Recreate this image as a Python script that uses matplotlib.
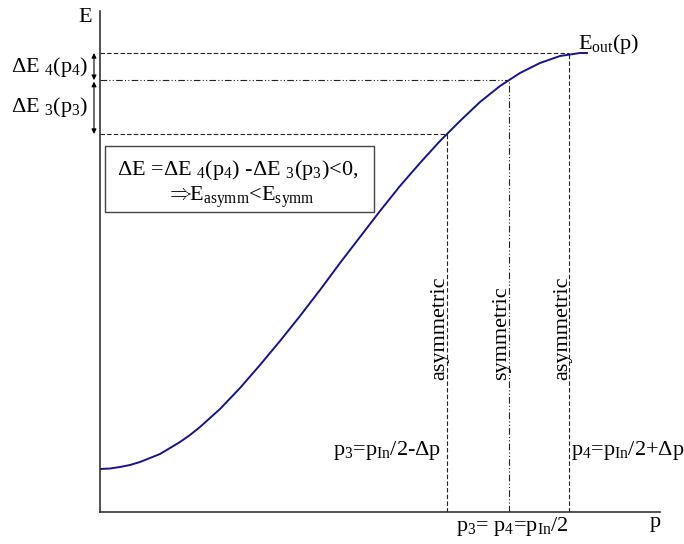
import numpy as np
import matplotlib
matplotlib.use("Agg")
import matplotlib.pyplot as plt
from matplotlib.patches import Rectangle

plt.rcParams['font.family'] = ['Liberation Serif', 'DejaVu Serif']
plt.rcParams['mathtext.fontset'] = 'custom'
plt.rcParams['mathtext.rm'] = 'Liberation Serif'
plt.rcParams['mathtext.it'] = 'Liberation Serif'

# curve E_out(p), arbitrary units
p = [0, 10, 20, 30, 40, 50, 60, 70, 80, 90, 100, 120, 140, 160, 180, 200, 220, 240, 260,
     280, 300, 320, 340, 360, 380, 400, 420, 440, 460, 480, 487]
E = [43, 43.5, 45, 47, 50, 54, 58, 64, 70, 77, 85, 103, 124, 147, 171, 196, 222, 249, 275,
     301, 326, 349, 371, 391, 410, 426, 439, 449, 456, 459, 459]

p3 = 347      # p_In/2 - dp
p_sym = 409   # p_In/2
p4 = 469      # p_In/2 + dp

E3 = np.interp(p3, p, E)
E_sym = np.interp(p_sym, p, E)
E4 = 459

fig = plt.figure(figsize=(6.84, 5.44), dpi=100)
ax = fig.add_axes([100/684, 32/544, 560/684, 501/544])
ax.set_xlim(0, 560)
ax.set_ylim(0, 501)
for s in ['top', 'right']:
    ax.spines[s].set_visible(False)
for s in ['left', 'bottom']:
    ax.spines[s].set_color('#333333')
    ax.spines[s].set_linewidth(1.2)
ax.set_xticks([])
ax.set_yticks([])

ax.plot(p, E, color='#15158a', lw=1.4)

dash = (0, (4, 2))
dashdot = (0, (6, 2, 1, 2, 1, 2))
lc = '#222222'
ax.plot([0, p3], [E3, E3], color=lc, lw=0.8, ls=dash)
ax.plot([p3, p3], [0, E3], color=lc, lw=0.8, ls=dash)
ax.plot([0, p_sym], [E_sym, E_sym], color=lc, lw=0.8, ls=dashdot)
ax.plot([p_sym, p_sym], [0, E_sym], color=lc, lw=0.8, ls=dashdot)
ax.plot([0, p4], [E4, E4], color=lc, lw=0.8, ls=dash)
ax.plot([p4, p4], [0, E4], color=lc, lw=0.8, ls=dash)

# double arrows for dE4, dE3
arr = dict(arrowstyle='<|-|>', color='black', lw=0.8, mutation_scale=7,
           shrinkA=0, shrinkB=0)
ax.annotate('', xy=(-6, E4), xytext=(-6, E_sym), arrowprops=arr, annotation_clip=False)
ax.annotate('', xy=(-6, E_sym - 1.5), xytext=(-6, E3), arrowprops=arr, annotation_clip=False)

fs = 16
ax.text(-8, 495, 'E', fontsize=fs, ha='right', va='center', clip_on=False)
ax.text(-12, 445, r'ΔE $_4$(p$_4$)', fontsize=fs, ha='right', va='center', clip_on=False)
ax.text(-12, 405, r'ΔE $_3$(p$_3$)', fontsize=fs, ha='right', va='center', clip_on=False)

ax.add_patch(Rectangle((5, 300), 269, 66, fill=False, ec='#444444', lw=1.0))
ax.text(138, 342, r'ΔE =ΔE $_4$(p$_4$) -ΔE $_3$(p$_3$)<0,', fontsize=fs,
        ha='center', va='center')
ax.text(140, 315, r'$\Rightarrow\!\!$E$_{\mathrm{asymm}}$<E$_{\mathrm{symm}}$', fontsize=fs,
        ha='center', va='center')

ax.text(478, 468, r'E$_{\mathrm{out}}$(p)', fontsize=fs, ha='left', va='center', clip_on=False)

ax.text(p3 - 7, 132, 'asymmetric', fontsize=fs, rotation=90, ha='center', va='bottom')
ax.text(p_sym - 7, 132, 'symmetric', fontsize=fs, rotation=90, ha='center', va='bottom')
ax.text(p4 - 6, 132, 'asymmetric', fontsize=fs, rotation=90, ha='center', va='bottom')

ax.text(p3 - 6, 61, r'p$_3$=p$_{\mathrm{In}}$/2-Δp', fontsize=fs, ha='right', va='center')
ax.text(p4 + 2, 61, r'p$_4$=p$_{\mathrm{In}}$/2+Δp', fontsize=fs, ha='left', va='center',
        clip_on=False)
ax.text(p_sym + 3, -15, r'p$_3$= p$_4$=p$_{\mathrm{In}}$/2', fontsize=fs, ha='center',
        va='center', clip_on=False)
ax.text(555, -10, 'p', fontsize=fs, ha='center', va='center', clip_on=False)

fig.savefig('out.png', dpi=100)
